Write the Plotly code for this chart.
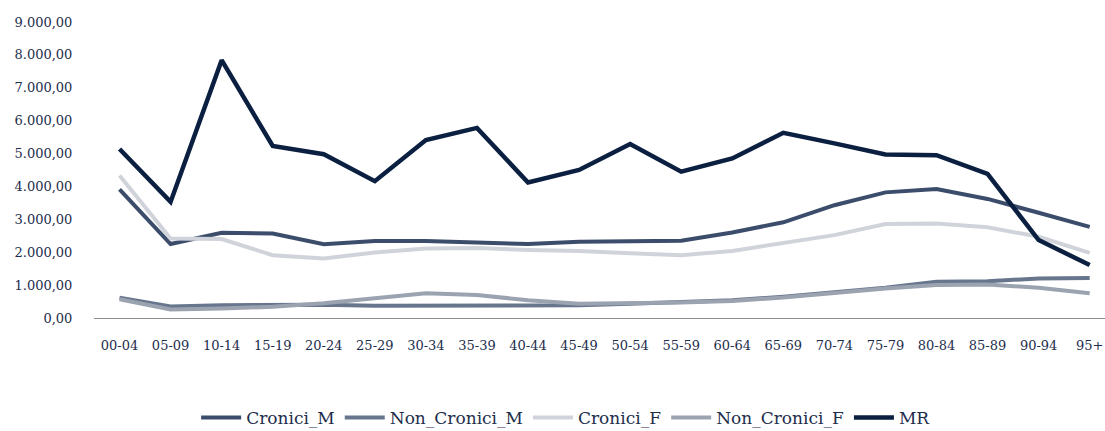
import plotly.graph_objects as go

# Age bands on the horizontal axis
age_bands = ["00-04", "05-09", "10-14", "15-19", "20-24", "25-29", "30-34",
             "35-39", "40-44", "45-49", "50-54", "55-59", "60-64", "65-69",
             "70-74", "75-79", "80-84", "85-89", "90-94", "95+"]

cronici_m = [3910, 2250, 2590, 2570, 2240, 2340, 2340, 2310, 2250, 2320,
             2340, 2350, 2600, 2910, 3430, 3820, 3920, 3620, 3200, 2770]
non_cronici_m = [620, 350, 390, 410, 400, 370, 370, 370, 380, 390,
                 430, 480, 540, 650, 780, 920, 1100, 1120, 1200, 1220]
cronici_f = [4330, 2420, 2400, 1910, 1810, 1990, 2110, 2130, 2070, 2040,
             1970, 1910, 2040, 2270, 2520, 2860, 2870, 2760, 2470, 1980]
non_cronici_f = [570, 260, 290, 340, 450, 600, 750, 700, 540, 430,
                 440, 470, 520, 620, 760, 900, 1000, 1020, 920, 750]
mr = [5140, 3530, 7840, 5230, 4980, 4160, 5410, 5780, 4120, 4500,
      5290, 4450, 4850, 5630, 5310, 4970, 4950, 4380, 2370, 1610]

y_ticks = [0, 1000, 2000, 3000, 4000, 5000, 6000, 7000, 8000, 9000]
y_tick_text = ["0,00", "1.000,00", "2.000,00", "3.000,00", "4.000,00",
               "5.000,00", "6.000,00", "7.000,00", "8.000,00", "9.000,00"]

series = [
    ("Cronici_M", cronici_m, "#3b4d6b", 4),
    ("Non_Cronici_M", non_cronici_m, "#67768d", 4),
    ("Cronici_F", cronici_f, "#d0d4da", 4),
    ("Non_Cronici_F", non_cronici_f, "#9ba3b1", 4),
    ("MR", mr, "#0b1f40", 4.5),
]

text_color = "#1d2d4c"
serif = "DejaVu Serif"

fig = go.Figure()
for name, values, color, width in series:
    fig.add_trace(go.Scatter(
        x=list(range(len(age_bands))), y=values, name=name, mode="lines",
        line=dict(color=color, width=width),
    ))

fig.update_layout(
    width=1105, height=431,
    margin=dict(l=94, r=0, t=22, b=113, autoexpand=False),
    paper_bgcolor="white", plot_bgcolor="white",
    showlegend=True,
    legend=dict(
        orientation="h", x=0.467, xanchor="center", y=-0.338, yanchor="middle",
        font=dict(family=serif, size=17, color=text_color),
        itemwidth=40, tracegroupgap=0,
    ),
    xaxis=dict(
        tickmode="array", tickvals=list(range(len(age_bands))), ticktext=age_bands,
        range=[-0.5, 19.3], showgrid=False, zeroline=False, automargin=False,
        showline=True, linecolor="#8c8c8c", linewidth=1,
        ticks="outside", ticklen=15, tickcolor="rgba(0,0,0,0)",
        ticklabeloverflow="allow",
        tickfont=dict(family=serif, size=13, color=text_color),
    ),
    yaxis=dict(
        range=[0, 9000], tickmode="array", tickvals=y_ticks, ticktext=y_tick_text,
        showgrid=False, zeroline=False, showline=False, automargin=False,
        ticks="outside", ticklen=18, tickcolor="rgba(0,0,0,0)",
        tickfont=dict(family=serif, size=13, color=text_color),
    ),
)

fig.write_html("out.html")
